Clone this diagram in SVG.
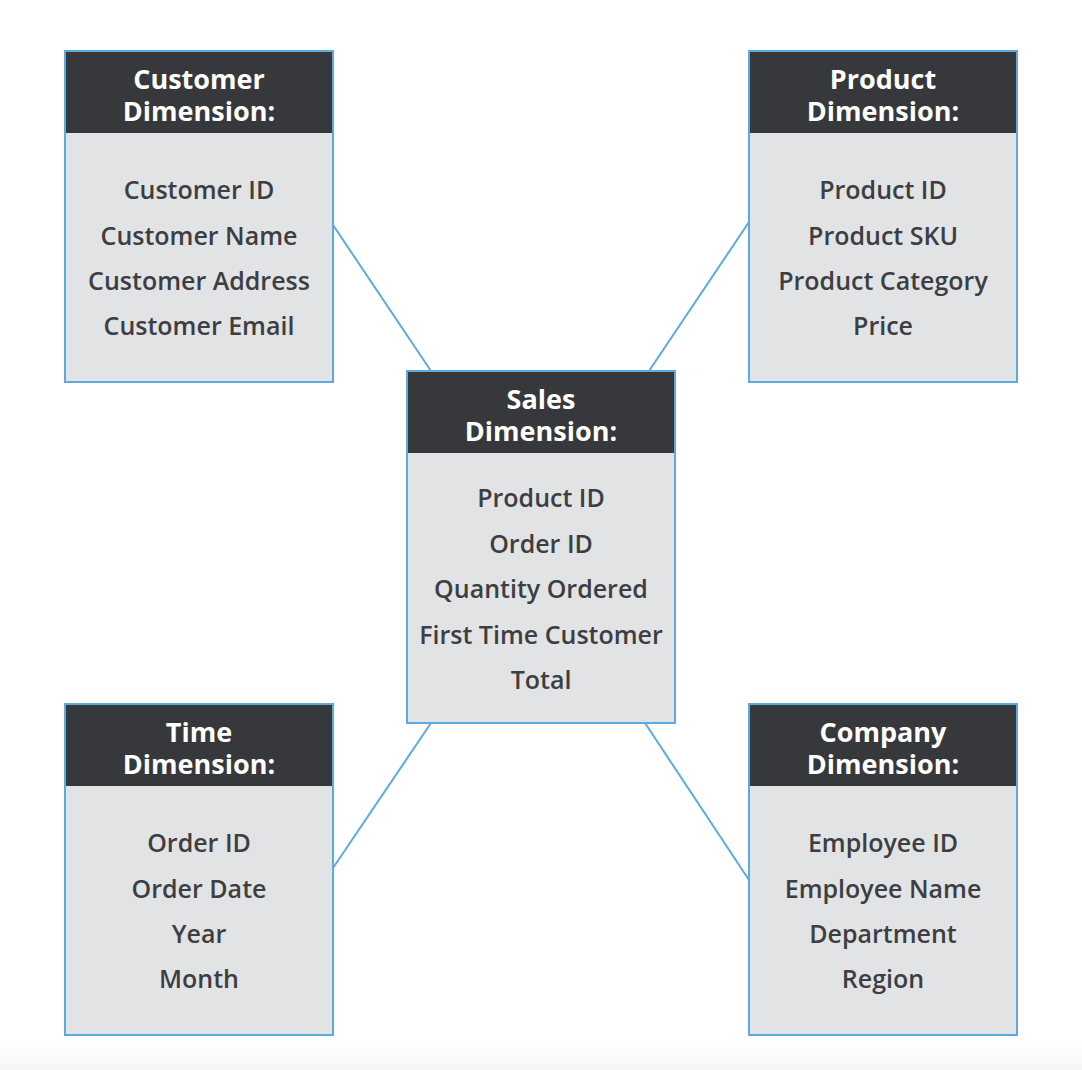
<svg xmlns="http://www.w3.org/2000/svg" width="1082" height="1070" viewBox="0 0 1082 1070">
<defs>
<style>
.body{fill:#e2e3e5;stroke:#5eaadc;stroke-width:2}
.head{fill:#37383c}
.t{font-family:"Open Sans","Liberation Sans",sans-serif;font-weight:700;font-size:27px;fill:#ffffff;text-anchor:middle}
.i{font-family:"Open Sans","Liberation Sans",sans-serif;font-weight:600;font-size:25px;fill:#3d3e42;text-anchor:middle}
.c{stroke:#5eaadc;stroke-width:2;fill:none}
</style>
<linearGradient id="bg" x1="0" y1="0" x2="0" y2="1"><stop offset="0" stop-color="#ffffff"/><stop offset="1" stop-color="#f6f6f6"/></linearGradient>
</defs>
<rect x="0" y="0" width="1082" height="1070" fill="#ffffff"/>
<rect x="0" y="1040" width="1082" height="30" fill="url(#bg)"/>
<g id="connectors">
<line class="c" x1="333" y1="225" x2="431" y2="371"/>
<line class="c" x1="749" y1="222" x2="649" y2="371"/>
<line class="c" x1="333" y1="868" x2="431" y2="723"/>
<line class="c" x1="749" y1="880" x2="645" y2="723"/>
</g>
<g id="customer">
<rect class="body" x="65" y="51" width="268" height="331"/>
<rect class="head" x="66" y="52" width="266" height="81"/>
<text class="t" x="199" y="89">Customer</text>
<text class="t" x="199" y="121">Dimension:</text>
<text class="i" x="199" y="199">Customer ID</text>
<text class="i" x="199" y="245">Customer Name</text>
<text class="i" x="199" y="290">Customer Address</text>
<text class="i" x="199" y="335">Customer Email</text>
</g>
<g id="product">
<rect class="body" x="749" y="51" width="268" height="331"/>
<rect class="head" x="750" y="52" width="266" height="81"/>
<text class="t" x="883" y="89">Product</text>
<text class="t" x="883" y="121">Dimension:</text>
<text class="i" x="883" y="199">Product ID</text>
<text class="i" x="883" y="245">Product SKU</text>
<text class="i" x="883" y="290">Product Category</text>
<text class="i" x="883" y="335">Price</text>
</g>
<g id="sales">
<rect class="body" x="407" y="371" width="268" height="352"/>
<rect class="head" x="408" y="372" width="266" height="81"/>
<text class="t" x="541" y="409">Sales</text>
<text class="t" x="541" y="441">Dimension:</text>
<text class="i" x="541" y="507">Product ID</text>
<text class="i" x="541" y="553">Order ID</text>
<text class="i" x="541" y="598">Quantity Ordered</text>
<text class="i" x="541" y="644">First Time Customer</text>
<text class="i" x="541" y="689">Total</text>
</g>
<g id="time">
<rect class="body" x="65" y="704" width="268" height="331"/>
<rect class="head" x="66" y="705" width="266" height="81"/>
<text class="t" x="199" y="742">Time</text>
<text class="t" x="199" y="774">Dimension:</text>
<text class="i" x="199" y="852">Order ID</text>
<text class="i" x="199" y="898">Order Date</text>
<text class="i" x="199" y="943">Year</text>
<text class="i" x="199" y="988">Month</text>
</g>
<g id="company">
<rect class="body" x="749" y="704" width="268" height="331"/>
<rect class="head" x="750" y="705" width="266" height="81"/>
<text class="t" x="883" y="742">Company</text>
<text class="t" x="883" y="774">Dimension:</text>
<text class="i" x="883" y="852">Employee ID</text>
<text class="i" x="883" y="898">Employee Name</text>
<text class="i" x="883" y="943">Department</text>
<text class="i" x="883" y="988">Region</text>
</g>
</svg>
